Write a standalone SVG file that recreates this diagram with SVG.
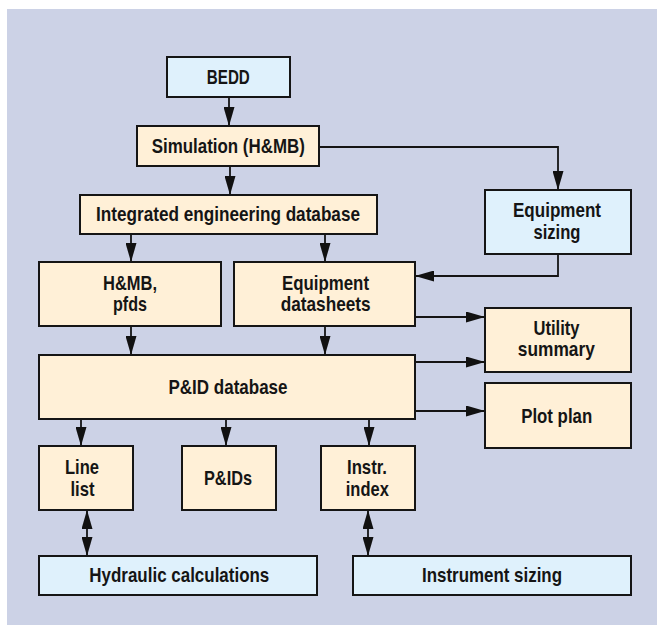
<svg xmlns="http://www.w3.org/2000/svg" width="657" height="625" viewBox="0 0 657 625">
<defs>
<marker id="ah" markerUnits="userSpaceOnUse" markerWidth="19" markerHeight="11" refX="19" refY="5.5" orient="auto-start-reverse" viewBox="0 0 19 11">
<path d="M0,0 L19,5.5 L0,11 Z" fill="#111"/>
</marker>
<style>
.bg{fill:#CCD2E6}
.n rect{stroke:#151515;stroke-width:2}
.b rect{fill:#FFF0D7}
.l rect{fill:#DFF1FC}
text{font-family:"Liberation Sans",Arial,sans-serif;font-weight:bold;font-size:20.5px;fill:#151515;text-anchor:middle}
.c path{fill:none;stroke:#151515;stroke-width:1.8;marker-end:url(#ah)}
.c path.d{marker-start:url(#ah)}
</style>
</defs>
<rect class="bg" x="7" y="9" width="650" height="616"/>
<g class="c" id="connectors">
<path d="M229,97 V126"/>
<path d="M230,166 V195"/>
<path d="M319,147 H558 V190"/>
<path d="M131,234 V262"/>
<path d="M325,234 V262"/>
<path d="M558,254 V276 H415"/>
<path d="M131,326 V355"/>
<path d="M325,326 V355"/>
<path d="M415,317 H485"/>
<path d="M415,362 H485"/>
<path d="M415,411 H485"/>
<path d="M81,419 V446"/>
<path d="M226,419 V446"/>
<path d="M369,419 V446"/>
<path class="d" d="M87,510 V556"/>
<path class="d" d="M368,510 V556"/>
</g>
<g id="bedd" class="n l"><rect x="167" y="57" width="123" height="40"/><text x="228.3" y="84" textLength="43" lengthAdjust="spacingAndGlyphs">BEDD</text></g>
<g id="simulation" class="n b"><rect x="137" y="126" width="182" height="40"/><text x="228.3" y="153.3" textLength="153" lengthAdjust="spacingAndGlyphs">Simulation (H&amp;MB)</text></g>
<g id="ied" class="n b"><rect x="80" y="195" width="297" height="39"/><text x="228" y="221.3" textLength="264" lengthAdjust="spacingAndGlyphs">Integrated engineering database</text></g>
<g id="eqsizing" class="n l"><rect x="485" y="190" width="146" height="64"/><text x="557" y="217" textLength="88" lengthAdjust="spacingAndGlyphs">Equipment</text><text x="557" y="238.5" textLength="47" lengthAdjust="spacingAndGlyphs">sizing</text></g>
<g id="hmb" class="n b"><rect x="39" y="262" width="182" height="64"/><text x="130" y="290" textLength="54" lengthAdjust="spacingAndGlyphs">H&amp;MB,</text><text x="130" y="311" textLength="34" lengthAdjust="spacingAndGlyphs">pfds</text></g>
<g id="eqds" class="n b"><rect x="234" y="262" width="181" height="64"/><text x="325.5" y="289.5" textLength="87" lengthAdjust="spacingAndGlyphs">Equipment</text><text x="325.7" y="311" textLength="90" lengthAdjust="spacingAndGlyphs">datasheets</text></g>
<g id="utility" class="n b"><rect x="485" y="308" width="146" height="64"/><text x="556.5" y="334.5" textLength="46" lengthAdjust="spacingAndGlyphs">Utility</text><text x="556.3" y="356" textLength="77" lengthAdjust="spacingAndGlyphs">summary</text></g>
<g id="pid" class="n b"><rect x="39" y="355" width="376" height="64"/><text x="228" y="393.5" textLength="119" lengthAdjust="spacingAndGlyphs">P&amp;ID database</text></g>
<g id="plot" class="n b"><rect x="485" y="383" width="146" height="65"/><text x="556.7" y="422.5" textLength="71" lengthAdjust="spacingAndGlyphs">Plot plan</text></g>
<g id="linelist" class="n b"><rect x="39" y="446" width="94" height="64"/><text x="82" y="474" textLength="34" lengthAdjust="spacingAndGlyphs">Line</text><text x="82.5" y="495.5" textLength="24" lengthAdjust="spacingAndGlyphs">list</text></g>
<g id="pids" class="n b"><rect x="182" y="446" width="94" height="64"/><text x="228" y="485" textLength="48" lengthAdjust="spacingAndGlyphs">P&amp;IDs</text></g>
<g id="instr" class="n b"><rect x="321" y="446" width="94" height="64"/><text x="367" y="474" textLength="40" lengthAdjust="spacingAndGlyphs">Instr.</text><text x="367.3" y="495.5" textLength="43" lengthAdjust="spacingAndGlyphs">index</text></g>
<g id="hydraulic" class="n l"><rect x="39" y="556" width="278" height="39"/><text x="179.3" y="582" textLength="180" lengthAdjust="spacingAndGlyphs">Hydraulic calculations</text></g>
<g id="instsizing" class="n l"><rect x="353" y="556" width="278" height="39"/><text x="492" y="582" textLength="140" lengthAdjust="spacingAndGlyphs">Instrument sizing</text></g>
</svg>
